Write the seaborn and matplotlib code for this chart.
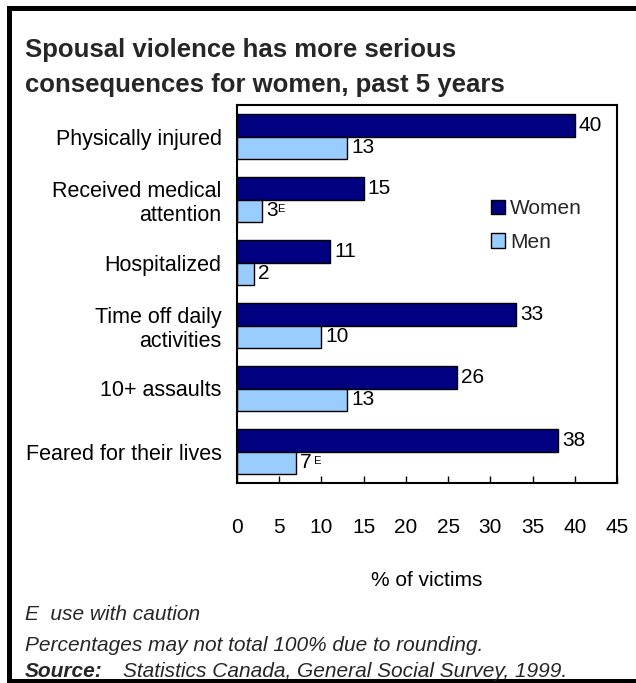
import matplotlib
matplotlib.use("Agg")
import matplotlib.pyplot as plt
from matplotlib.lines import Line2D
import pandas as pd
import seaborn as sns

# Data
categories = ["Physically injured", "Received medical\nattention", "Hospitalized",
              "Time off daily\nactivities", "10+ assaults", "Feared for their lives"]
women = [40, 15, 11, 33, 26, 38]
men = [13, 3, 2, 10, 13, 7]
women_flags = ["", "", "", "", "", ""]
men_flags = ["", "E", "", "", "", " E"]
series = ["Women", "Men"]
colors = ["#000080", "#99CCFF"]
xticks = [0, 5, 10, 15, 20, 25, 30, 35, 40, 45]

sns.set_style("white")
plt.rcParams["font.family"] = ["Liberation Sans", "DejaVu Sans"]

df = pd.DataFrame({
    "category": categories * 2,
    "value": women + men,
    "sex": ["Women"] * len(women) + ["Men"] * len(men),
})

W, H = 636, 683
fig = plt.figure(figsize=(W / 100, H / 100), dpi=100)
ax = fig.add_axes([237 / W, 1 - 483 / H, 380 / W, 378 / H])

sns.barplot(data=df, x="value", y="category", hue="sex", hue_order=series,
            palette=colors, orient="h", width=0.73, saturation=1,
            edgecolor="black", linewidth=1, ax=ax)

ax.set_xlim(0, 45)
ax.set_xticks(xticks)
ax.set_xticklabels([str(t) for t in xticks])
ax.set_yticks(range(len(categories)))
ax.set_yticklabels(categories, multialignment="right")
ax.tick_params(axis="x", direction="in", length=5, width=1, colors="black",
               pad=25, labelsize=15, bottom=True)
ax.tick_params(axis="y", length=0, pad=11, labelsize=15.5, labelcolor="black")
for s in ax.spines.values():
    s.set_color("black")
    s.set_linewidth(1.5)

ax.set_ylabel("")
ax.set_xlabel("% of victims", fontsize=15, color="black")
ax.xaxis.set_label_coords(0.5, (483 - 571) / 378)

ax.legend(loc="upper left", bbox_to_anchor=(0.618, 0.80), frameon=False,
          fontsize=15, handlelength=0.7, handleheight=0.7,
          handletextpad=0.25, labelspacing=0.7)

# Value labels, with the "E" quality flag set just after the number
label_sets = []
for cont, vals in zip(ax.containers, [women, men]):
    texts = ax.bar_label(cont, labels=[str(v) for v in vals], padding=3,
                         fontsize=15, color="black")
    label_sets.append(texts)

fig.canvas.draw()
for texts, flags in zip(label_sets, [women_flags, men_flags]):
    for t, flag in zip(texts, flags):
        if flag:
            bb = t.get_window_extent()
            yc = (bb.y0 + bb.y1) / 2
            fig.text((bb.x1 - 1) / W, (yc + 2) / H, flag, fontsize=8,
                     va="center", ha="left", color="black")

# Outer frame (left, top, bottom)
lw = 3.6
fig.add_artist(Line2D([8.5 / W, 8.5 / W], [1 - 8 / H, 1 - 681 / H],
                      transform=fig.transFigure, color="black", lw=lw,
                      solid_capstyle="projecting"))
fig.add_artist(Line2D([8.5 / W, 1], [1 - 8 / H, 1 - 8 / H],
                      transform=fig.transFigure, color="black", lw=lw,
                      solid_capstyle="projecting"))
fig.add_artist(Line2D([8.5 / W, 1], [1 - 681 / H, 1 - 681 / H],
                      transform=fig.transFigure, color="black", lw=lw,
                      solid_capstyle="projecting"))

# Title
fig.text(25 / W, 1 - 57 / H, "Spousal violence has more serious",
         fontsize=18.5, fontweight="bold", va="baseline")
fig.text(25 / W, 1 - 92 / H, "consequences for women, past 5 years",
         fontsize=18.5, fontweight="bold", va="baseline")

# Notes
fig.text(25 / W, 1 - 620 / H, "E  use with caution", fontsize=15,
         style="italic", va="baseline")
fig.text(25 / W, 1 - 651 / H, "Percentages may not total 100% due to rounding.",
         fontsize=15, style="italic", va="baseline")
fig.text(25 / W, 1 - 677 / H, "Source:", fontsize=15, style="italic",
         fontweight="bold", va="baseline")
fig.text(123 / W, 1 - 677 / H, "Statistics Canada, General Social Survey, 1999.",
         fontsize=15, style="italic", va="baseline")

fig.savefig("out.png", dpi=100)
